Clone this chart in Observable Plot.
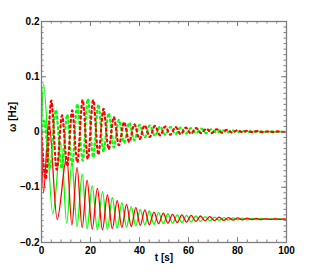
<!DOCTYPE html>
<html><head><meta charset="utf-8">
<script src="https://cdn.jsdelivr.net/npm/d3@7"></script>
<script src="https://cdn.jsdelivr.net/npm/@observablehq/plot@0.6"></script>
<style>html,body{margin:0;padding:0;background:#fff} svg{display:block}</style>
</head><body><div id="chart"></div>
<script>
// ---- data (extrema of each oscillating trace) ----
const greenSolidT = [0,0.8,4.6,8.0,10.3,12.4,14.5,16.6,18.6,20.7,22.8,24.9,26.9,28.9,30.9,32.8,34.7,36.6,38.5,40.3,42.2,44.0,45.9,47.8,49.7,51.6,53.5,55.4,57.3,59.2,61.1,63.0,64.9,66.8,68.7,70.6,72.5,74.4,76.3,78.2,80.1,82.0,83.9,85.8,87.7,89.6,91.5,93.4,95.3,97.2,99.1,100];
const greenSolidV = [0.000,0.087,-0.148,-0.020,-0.165,-0.055,-0.171,-0.076,-0.175,-0.097,-0.177,-0.108,-0.176,-0.119,-0.174,-0.128,-0.172,-0.135,-0.170,-0.140,-0.168,-0.143,-0.167,-0.146,-0.166,-0.148,-0.165,-0.150,-0.164,-0.151,-0.163,-0.152,-0.162,-0.153,-0.161,-0.154,-0.160,-0.155,-0.1595,-0.1555,-0.159,-0.156,-0.1588,-0.1563,-0.1585,-0.1566,-0.1583,-0.1568,-0.1582,-0.157,-0.158,-0.1575];

const redSolidT = [0,0.8,3.0,6.4,10.3,12.4,14.5,16.6,18.6,20.7,22.8,24.9,26.9,28.9,30.9,32.8,34.7,36.6,38.5,40.3,42.2,44.0,45.9,47.8,49.7,51.6,53.5,55.4,57.3,59.2,61.1,63.0,64.9,66.8,68.7,70.6,72.5,74.4,76.3,78.2,80.1,82.0,83.9,85.8,87.7,89.6,91.5,93.4,95.3,97.2,99.1,100];
const redSolidV = [0.000,-0.110,0.020,-0.158,-0.045,-0.168,-0.064,-0.173,-0.087,-0.176,-0.102,-0.177,-0.114,-0.175,-0.124,-0.173,-0.131,-0.171,-0.137,-0.169,-0.141,-0.168,-0.145,-0.166,-0.147,-0.165,-0.149,-0.164,-0.150,-0.163,-0.151,-0.162,-0.152,-0.161,-0.153,-0.1605,-0.154,-0.160,-0.155,-0.1595,-0.1555,-0.159,-0.156,-0.1587,-0.1565,-0.1585,-0.1568,-0.1583,-0.157,-0.1582,-0.1572,-0.1577];

const greenDotT = [0,1.0,3.5,5.8,8.3,10.5,12.5,14.6,16.8,18.9,21.1,23.2,25.3,27.4,29.5,31.6,33.7,35.8,37.9,40.0,42.1,44.2,46.3,48.4,50.5,52.6,54.7,56.8,58.9,61.0,63.1,65.2,67.3,69.4,71.5,73.6,75.7,77.8,79.9,82.0,84.0,86.0,88.0,90.0,92.0,94.0,96.0,98.0,100];
const greenDotV = [0.000,0.020,-0.065,0.040,-0.066,0.032,-0.060,0.051,-0.052,0.060,-0.046,0.050,-0.036,0.034,-0.028,0.022,-0.020,0.017,-0.015,0.013,-0.010,0.012,-0.007,0.010,-0.005,0.009,-0.004,0.008,-0.003,0.007,-0.002,0.006,-0.002,0.005,-0.001,0.004,-0.001,0.003,0.000,0.002,0.000,0.0015,0.000,0.001,0.000,0.001,0.000,0.0005,0.000];

const redDotT = [0,1.7,4.0,6.2,8.4,10.5,12.5,14.6,16.8,18.9,21.1,23.2,25.3,27.4,29.5,31.6,33.7,35.8,37.9,40.0,42.1,44.2,46.3,48.4,50.5,52.6,54.7,56.8,58.9,61.0,63.1,65.2,67.3,69.4,71.5,73.6,75.7,77.8,79.9,82.0,84.0,86.0,88.0,90.0,92.0,94.0,96.0,98.0,100];
const redDotV = [0.000,-0.085,0.057,-0.068,0.030,-0.062,0.039,-0.055,0.058,-0.049,0.058,-0.041,0.042,-0.031,0.027,-0.024,0.018,-0.018,0.014,-0.013,0.012,-0.009,0.011,-0.006,0.010,-0.005,0.009,-0.004,0.008,-0.003,0.007,-0.002,0.006,-0.002,0.005,-0.001,0.004,-0.001,0.003,0.000,0.002,0.000,0.0015,0.000,0.001,0.000,0.001,0.000,0.0005];

const xTickValues = [0,20,40,60,80,100];
const yTickValues = [-0.2,-0.1,0,0.1,0.2];
const xTickLabels = ["0","20","40","60","80","100"];
const yTickLabels = ["\u20130.2","\u20130.1","0","0.1","0.2"];
const xTitle = "t [s]";
const yTitle = "\u03c9 [Hz]";

// ---- layout ----
const W = 316, H = 272, mL = 41, mR = 30, mT = 21, mB = 30;
const plotH = H - mT - mB, plotW = W - mL - mR;
const rows = (T, V) => T.map((t, i) => ({t, v: V[i]}));
const xMinor = d3.range(0, 100.01, 4);
const yMinor = d3.range(-20, 20.01, 1).map(d => d / 100);
const axisColor = "#7f7f7f";
const font = "'Liberation Sans', Arial, Helvetica, sans-serif";

const tickMarks = (vals, len) => [
  Plot.tickX(vals, {x: d => d, insetTop: plotH - len, stroke: axisColor, strokeWidth: 1}),
  Plot.tickX(vals, {x: d => d, insetBottom: plotH - len, stroke: axisColor, strokeWidth: 1})
];
const tickMarksY = (vals, len) => [
  Plot.tickY(vals, {y: d => d, insetRight: plotW - len, stroke: axisColor, strokeWidth: 1}),
  Plot.tickY(vals, {y: d => d, insetLeft: plotW - len, stroke: axisColor, strokeWidth: 1})
];

const chart = Plot.plot({
  width: W, height: H,
  marginLeft: mL, marginRight: mR, marginTop: mT, marginBottom: mB,
  x: {domain: [0, 100], label: null},
  y: {domain: [-0.2, 0.2], label: null},
  style: {fontFamily: font, fontSize: "10px", fontWeight: "bold", color: "#000", background: "#fff", overflow: "visible"},
  marks: [
    Plot.line(rows(greenSolidT, greenSolidV), {x: "t", y: "v", stroke: "#00ff00", strokeWidth: 1.3, curve: "monotone-x", clip: true}),
    Plot.line(rows(redSolidT, redSolidV), {x: "t", y: "v", stroke: "#ff0000", strokeWidth: 1.3, curve: "monotone-x", clip: true}),
    Plot.line(rows(greenDotT, greenDotV), {x: "t", y: "v", stroke: "#00ff00", strokeWidth: 2.2, strokeDasharray: "2,3.4", curve: "monotone-x", clip: true}),
    Plot.line(rows(redDotT, redDotV), {x: "t", y: "v", stroke: "#ff0000", strokeWidth: 2.2, strokeDasharray: "2,3.4", curve: "monotone-x", clip: true}),
    ...tickMarks(xMinor, 2.5),
    ...tickMarks(xTickValues, 5),
    ...tickMarksY(yMinor, 2.5),
    ...tickMarksY(yTickValues, 5),
    Plot.frame({stroke: axisColor, strokeWidth: 1.3}),
    Plot.axisX(xTickValues, {tickSize: 0, tickPadding: 4, tickFormat: (d, i) => xTickLabels[i], fill: "#000", fontWeight: "bold"}),
    Plot.axisY(yTickValues, {tickSize: 0, tickPadding: 2, tickFormat: (d, i) => yTickLabels[i], fill: "#000", fontWeight: "bold"}),
    Plot.text([xTitle], {frameAnchor: "bottom", dy: 18, fontWeight: "bold", fill: "#000"}),
    Plot.text([yTitle], {frameAnchor: "left", dx: -29, rotate: -90, fontWeight: "bold", fill: "#000"})
  ]
});
document.getElementById("chart").appendChild(chart);
</script>
</body></html>
